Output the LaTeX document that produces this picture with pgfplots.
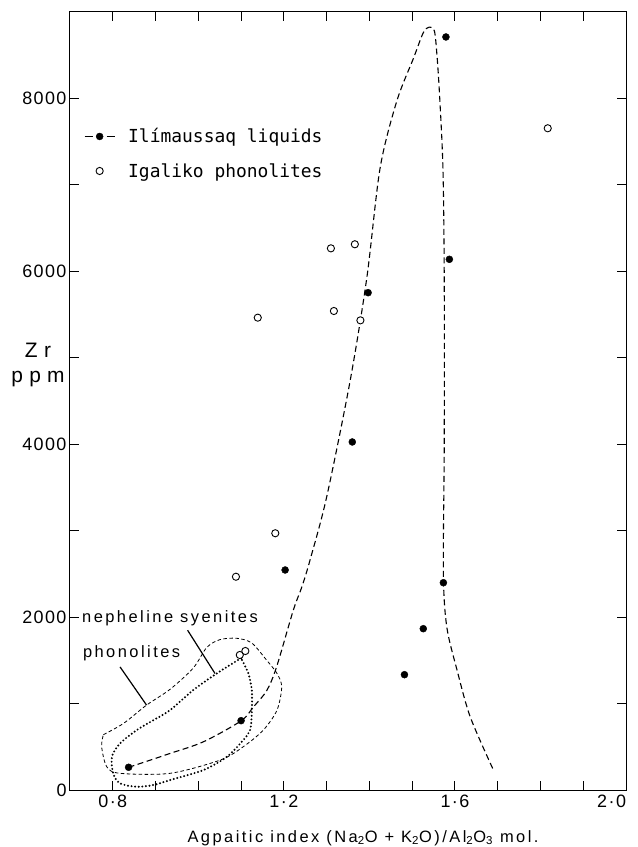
\documentclass[border=0pt]{standalone}
\usepackage{pgfplots}
\pgfplotsset{compat=1.18}
\usepackage{fontspec}
\setmainfont{Liberation Sans}
\newfontfamily\legfont{DejaVu Sans Mono}
\newfontfamily\spfont[LetterSpace=15]{Liberation Sans}
\newfontfamily\tkfont[LetterSpace=8]{Liberation Sans}
\newfontfamily\zrfont[LetterSpace=30]{Liberation Sans}
\begin{document}
\begin{tikzpicture}
\begin{axis}[
  name=ax,
  width=556bp, height=778bp, scale only axis,
  xmin=0.7, xmax=2.0, ymin=0, ymax=9000,
  axis line style={line width=1bp},
  tick style={black, line width=1bp},
  tick align=inside,
  major tick length=9bp, minor tick length=9bp,
  xtick={0.8,1.2,1.6,2.0},
  xticklabels={0·8,1·2,1·6,\makebox[0pt][r]{2·0}},
  minor xtick={0.9,1.0,1.1,1.3,1.4,1.5,1.7,1.8,1.9},
  ytick={0,2000,4000,6000,8000},
  yticklabels={0,2000,4000,6000,8000},
  minor ytick={1000,3000,5000,7000},
  ticklabel style={font=\fontsize{18}{20}\selectfont\tkfont},
  xticklabel style={yshift=-1bp},
  xlabel={Agpaitic index (Na\textsubscript{2}O + K\textsubscript{2}O)/Al\textsubscript{2}O\textsubscript{3} mol.},
  xlabel style={at={(axis description cs:0.5,0)}, anchor=base, yshift=-52bp, xshift=15bp, font=\fontsize{16.5}{20}\selectfont\spfont},
  ylabel={Zr\\ppm},
  ylabel style={at={(axis description cs:-0.0576,0.546)}, rotate=-90, anchor=center, align=center, font=\fontsize{21}{25}\selectfont\zrfont},
  legend style={draw=none, fill=none, font=\fontsize{18}{20}\selectfont\legfont, at={(axis description cs:0.025,0.853)}, anchor=north west, row sep=15bp, inner sep=0pt, /tikz/every odd column/.append style={column sep=11bp}},
  legend cell align=left,
]
% nepheline syenites envelope (fine dashed)
\addplot[black, line width=0.8bp, dash pattern=on 3.5bp off 2.5bp, smooth, tension=0.5, forget plot] coordinates {
(0.778,640) (0.825,770) (0.879,982) (0.934,1165) (0.988,1410) (1.020,1650) (1.051,1740) (1.090,1755) (1.125,1700) (1.160,1500) (1.184,1348) (1.195,1193) (1.184,924) (1.152,693) (1.105,500) (1.051,346) (0.934,193) (0.817,193) (0.786,269) (0.774,500) (0.778,640)};
% phonolites envelope (dotted)
\addplot[black, line width=2.2bp, line cap=round, dash pattern=on 0pt off 3.6bp, smooth, tension=0.5, forget plot] coordinates {
(1.100,1525) (1.043,1348) (0.988,1155) (0.934,924) (0.895,808) (0.856,693) (0.817,539) (0.798,385) (0.801,193) (0.817,77) (0.856,38) (0.895,58) (0.934,115) (1.012,231) (1.067,385) (1.105,577) (1.121,693) (1.125,886) (1.125,1155) (1.117,1348) (1.100,1525)};
% Ilimaussaq trend (dashed)
\addplot[black, line width=1.1bp, dash pattern=on 6bp off 3.5bp, smooth, tension=0.5, forget plot] coordinates {
(0.837,262) (0.934,423) (1.012,558) (1.100,800) (1.129,962) (1.160,1150) (1.183,1424) (1.222,2078) (1.242,2348) (1.261,2656) (1.300,3387) (1.355,4734) (1.394,5925) (1.425,7194) (1.464,7968) (1.503,8464) (1.526,8760) (1.540,8825) (1.552,8780) (1.558,8500) (1.564,8045) (1.572,7190) (1.575,5925) (1.575,4000) (1.573,2505) (1.581,1885) (1.605,1386) (1.636,843) (1.690,231)};
% pointer lines
\addplot[black, line width=1.2bp, forget plot] coordinates {(0.975,1848) (1.039,1348)};
\addplot[black, line width=1.2bp, forget plot] coordinates {(0.817,1424) (0.879,982)};
% Ilimaussaq liquids
\addplot[only marks, mark=*, mark size=3.5bp, black,
  legend image code/.code={\draw[black, line width=1.1bp] (0bp,0bp) -- (8bp,0bp); \draw[black, line width=1.1bp] (22bp,0bp) -- (30bp,0bp); \fill[black] (15bp,0bp) circle (3.5bp);}]
coordinates {(0.837,263) (1.100,802) (1.203,2545) (1.360,4026) (1.397,5753) (1.587,6139) (1.579,8711) (1.573,2398) (1.526,1866) (1.482,1334)};
\addlegendentry{Ilímaussaq liquids}
% Igaliko phonolites
\addplot[only marks, mark=*, mark size=3.6bp, mark options={fill=white, draw=black, line width=0.9bp},
  legend image code/.code={\path[draw=none] (0bp,0bp) -- (30bp,0bp); \draw[black, fill=white, line width=0.9bp] (15bp,0bp) circle (3.6bp);}]
coordinates {(1.817,7655) (1.310,6266) (1.366,6313) (1.317,5541) (1.379,5433) (1.139,5464) (1.180,2970) (1.088,2467) (1.097,1562) (1.110,1608)};
\addlegendentry{Igaliko phonolites}
\node[anchor=base west, font=\fontsize{16.5}{20}\selectfont\spfont, inner sep=0pt] at (axis cs:0.728,1940) {nepheline syenites};
\node[anchor=base west, font=\fontsize{16.5}{20}\selectfont\spfont, inner sep=0pt] at (axis cs:0.730,1532) {phonolites};
\end{axis}
\pgfresetboundingbox
\path ([shift={(-70bp,-57bp)}]ax.south west) rectangle ([shift={(11bp,12bp)}]ax.north east);
\end{tikzpicture}
\end{document}
